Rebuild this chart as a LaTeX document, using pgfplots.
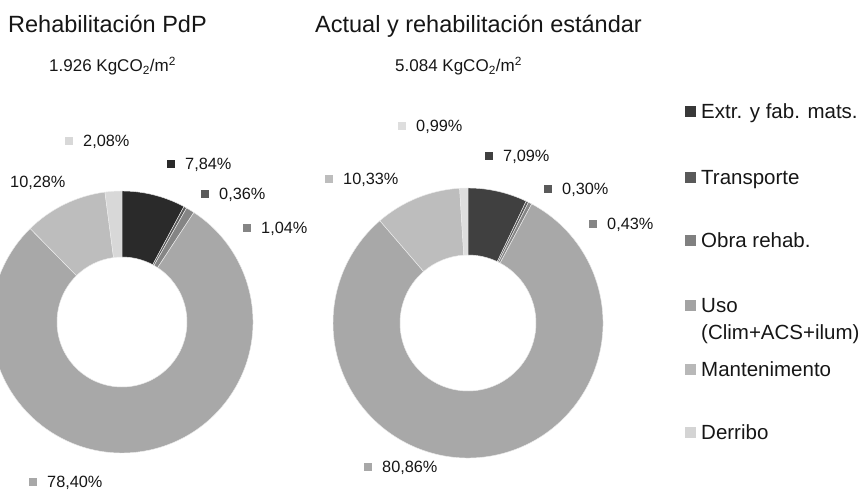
\documentclass[border=0pt]{standalone}
\usepackage{pgfplots}
\pgfplotsset{compat=1.18}
\usepackage{pgfplotstable}
\usepackage{fontspec}
\setmainfont{Liberation Sans}

% slice colours, left and right ring
\definecolor{L0}{HTML}{2A2A2A}
\definecolor{L1}{HTML}{5A5A5A}
\definecolor{L2}{HTML}{858585}
\definecolor{L3}{HTML}{A8A8A8}
\definecolor{L4}{HTML}{BDBDBD}
\definecolor{L5}{HTML}{D8D8D8}
\definecolor{R0}{HTML}{404040}
\definecolor{R1}{HTML}{5A5A5A}
\definecolor{R2}{HTML}{858585}
\definecolor{R3}{HTML}{A8A8A8}
\definecolor{R4}{HTML}{BDBDBD}
\definecolor{R5}{HTML}{DEDEDE}
% legend swatches
\definecolor{G0}{HTML}{383838}
\definecolor{G1}{HTML}{595959}
\definecolor{G2}{HTML}{808080}
\definecolor{G3}{HTML}{A3A3A3}
\definecolor{G4}{HTML}{B8B8B8}
\definecolor{G5}{HTML}{D4D4D4}
\definecolor{txt}{HTML}{161616}

% share in %, label swatch x, label baseline (from top)
\pgfplotstableread{
share mx by
7.84  171 170
0.36  205 200
1.04  247 234
78.40 33  488
10.28 -4  188
2.08  69  147
}\tblL

\pgfplotstableread{
share mx by
7.09  489 162
0.30  548 195
0.43  593 230
80.86 368 473
10.33 329 185
0.99  402 132
}\tblR

% #1 table, #2 colour prefix, #3 cx, #4 cy, #5 outer r, #6 inner r
\newcommand\drawdonut[6]{%
  \gdef\cumshare{0}%
  \foreach \i in {0,...,5}{%
    \pgfplotstablegetelem{\i}{share}\of#1\let\val\pgfplotsretval
    \pgfmathsetmacro\aone{90-3.6*\cumshare}%
    \pgfmathsetmacro\atwo{90-3.6*(\cumshare+\val)}%
    \pgfmathsetmacro\xout{#3+#5*cos(\aone)}%
    \pgfmathsetmacro\yout{#4+#5*sin(\aone)}%
    \pgfmathsetmacro\xin{#3+#6*cos(\atwo)}%
    \pgfmathsetmacro\yin{#4+#6*sin(\atwo)}%
    \pgfmathsetmacro\newcum{\cumshare+\val}\xdef\cumshare{\newcum}%
    \filldraw[fill=#2\i, draw=white!85!gray, line width=0.45pt]
      (axis cs:\xout,\yout) arc[start angle=\aone, end angle=\atwo, radius=#5pt]
      -- (axis cs:\xin,\yin) arc[start angle=\atwo, end angle=\aone, radius=#6pt] -- cycle;
    \pgfplotstablegetelem{\i}{mx}\of#1\let\mx\pgfplotsretval
    \pgfplotstablegetelem{\i}{by}\of#1\let\by\pgfplotsretval
    \pgfmathsetmacro\ty{492-\by}%
    \pgfmathsetmacro\my{\ty+6}%
    \pgfmathsetmacro\tx{\mx+14}%
    \fill[#2\i] (axis cs:\mx,\my) ++(-3.75pt,-3.75pt) rectangle ++(7.5pt,7.5pt);
    \node[anchor=base west, inner sep=0pt, text=txt,
          font=\fontsize{16.3}{18}\selectfont] at (axis cs:\tx,\ty)
      {\pgfmathprintnumber[fixed,fixed zerofill,precision=2,use comma,assume math mode=true]{\val}\%};
  }%
}

\newcommand\legitem[3]{% colour, baseline (axis y), text
  \fill[#1] (axis cs:685,#2+2) rectangle (axis cs:696,#2+13);
  \node[anchor=base west, inner sep=0pt, text=txt, font=\fontsize{20.5}{24}\selectfont]
    at (axis cs:701,#2) {#3};
}

\begin{document}
\begin{tikzpicture}
\begin{axis}[
  at={(0,0)}, anchor=south west,
  scale only axis, width=867pt, height=492pt,
  xmin=0, xmax=867, ymin=0, ymax=492,
  hide axis, clip=false]
\pgfplotsextra{%
  \drawdonut{\tblL}{L}{122}{170}{131}{65}%
  \drawdonut{\tblR}{R}{468}{169}{135}{68}%
}
% titles
\node[anchor=base west, inner sep=0pt, text=txt, font=\fontsize{23.5}{28}\selectfont]
  at (axis cs:8,459) {Rehabilitación PdP};
\node[anchor=base west, inner sep=0pt, text=txt, font=\fontsize{23.5}{28}\selectfont]
  at (axis cs:315,459) {Actual y rehabilitación estándar};
\node[anchor=base west, inner sep=0pt, text=txt, font=\fontsize{17}{20}\selectfont]
  at (axis cs:49,420) {1.926 KgCO\textsubscript{2}/m\textsuperscript{2}};
\node[anchor=base west, inner sep=0pt, text=txt, font=\fontsize{17}{20}\selectfont]
  at (axis cs:395,420) {5.084 KgCO\textsubscript{2}/m\textsuperscript{2}};
% legend
\legitem{G0}{373}{Extr. y fab. mats.}
\legitem{G1}{307}{Transporte}
\legitem{G2}{244}{Obra rehab.}
\legitem{G3}{179}{Uso}
\node[anchor=base west, inner sep=0pt, text=txt, font=\fontsize{20.5}{24}\selectfont]
  at (axis cs:701,152) {(Clim+ACS+ilum)};
\legitem{G4}{115}{Mantenimento}
\legitem{G5}{52}{Derribo}
\end{axis}
\pgfresetboundingbox
\path[use as bounding box] (0,0) rectangle (867pt,492pt);
\end{tikzpicture}
\end{document}
